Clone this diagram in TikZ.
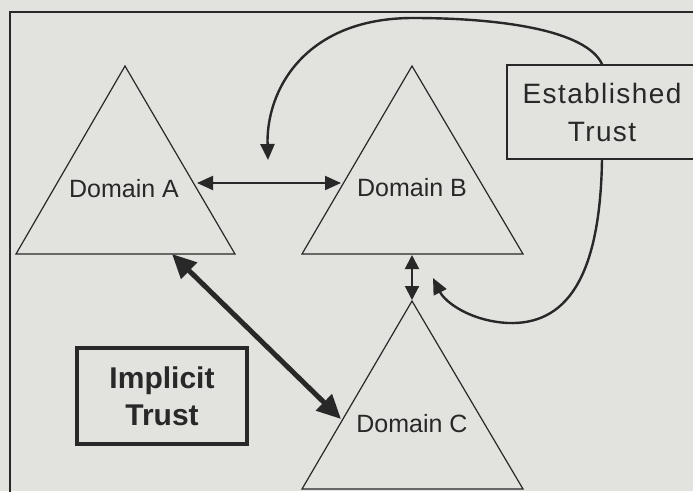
\documentclass[tikz,border=0pt]{standalone}
\usepackage{fontspec}
\setmainfont{Liberation Sans}
\newfontfamily\spacedfont[LetterSpace=5]{Liberation Sans}
\usetikzlibrary{arrows.meta}
\definecolor{paper}{RGB}{226,227,222}
\definecolor{ink}{RGB}{40,40,40}
\begin{document}
\begin{tikzpicture}[x=1pt,y=-1pt,
  domtri/.style={draw=ink,line width=1.2pt},
  dlabel/.style={text=ink,font=\fontsize{25}{28}\selectfont,inner sep=0pt},
  thinlink/.style={draw=ink,line width=2pt,{Triangle[length=16pt,width=14pt]}-{Triangle[length=16pt,width=14pt]}},
  shortlink/.style={draw=ink,line width=2pt,{Triangle[length=14pt,width=14pt]}-{Triangle[length=14pt,width=14pt]}},
  boldlink/.style={draw=ink,line width=5pt,{Triangle[length=24pt,width=22pt]}-{Triangle[length=24pt,width=22pt]}},
  trustloop/.style={draw=ink,line width=2.4pt,-{Triangle[length=16pt,width=14pt]}},
  trustbox/.style={draw=ink,text=ink,align=center,inner sep=0pt}]
\useasboundingbox (0,0) rectangle (693,491);
\fill[paper] (0,0) rectangle (693,491);
% outer frame, running past the right and bottom edges
\draw[ink,line width=1.5pt] (10,540) -- (10,12) -- (740,12);

% domain triangles
\coordinate (Atop) at (125,66);
\coordinate (Aleft) at (16,254);
\coordinate (Aright) at (235,254);
\draw[domtri] (Atop) -- (Aright) -- (Aleft) -- cycle;
\node[dlabel] (A) at (124,189) {Domain A};

\coordinate (Btop) at (412,66);
\coordinate (Bleft) at (302,254);
\coordinate (Bright) at (523,254);
\draw[domtri] (Btop) -- (Bright) -- (Bleft) -- cycle;
\node[dlabel] (B) at (412,188) {Domain B};

\coordinate (Ctop) at (412,301);
\coordinate (Cleft) at (302,489);
\coordinate (Cright) at (523,489);
\draw[domtri] (Ctop) -- (Cright) -- (Cleft) -- cycle;
\node[dlabel] (C) at (412,424) {Domain C};

% trust labels
\node[trustbox,line width=1.8pt,minimum width=190pt,minimum height=94pt,
      font=\spacedfont\fontsize{28}{38}\selectfont] (est) at (602,112) {Established\\Trust};
\node[trustbox,line width=4pt,minimum width=170pt,minimum height=96pt,
      font=\bfseries\fontsize{30}{37}\selectfont] (imp) at (162,396) {Implicit\\Trust};

% links between domains
\coordinate (ABl) at (197,183);
\coordinate (ABr) at (341,183);
\draw[thinlink] (ABl) -- (ABr);
\coordinate (BCt) at (412,255);
\coordinate (BCb) at (412,300);
\draw[shortlink] (BCt) -- (BCb);
\coordinate (ACa) at (172,254);
\coordinate (ACc) at (341,419);
\draw[boldlink] (ACa) -- (ACc);

% loops from the established-trust box
\coordinate (topend) at (268,160);
\coordinate (botend) at (433,278);
\draw[trustloop] (est.north) .. controls (586,30) and (500,18) .. (413,18)
  .. controls (305,18) and (266,90) .. (topend);
\draw[trustloop] (est.south) .. controls (600,280) and (565,325) .. (508,323)
  .. controls (470,321) and (445,302) .. (botend);
\end{tikzpicture}
\end{document}
